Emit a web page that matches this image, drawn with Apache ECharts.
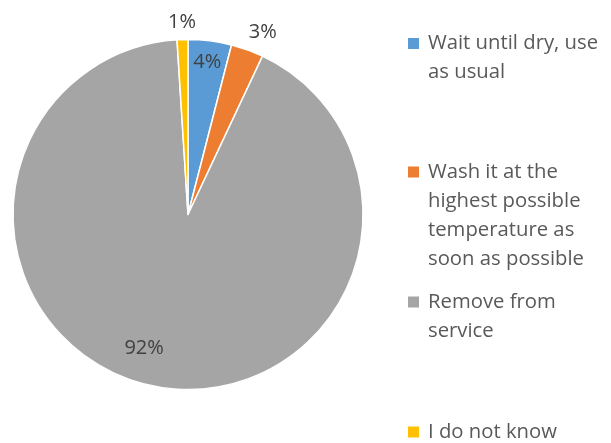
<!DOCTYPE html>
<html>
<head>
<meta charset="utf-8">
<script src="https://cdn.jsdelivr.net/npm/echarts@6/dist/echarts.min.js"></script>
<style>
  html, body { margin: 0; padding: 0; background: #ffffff; }
  #chart { width: 611px; height: 443px; }
</style>
</head>
<body>
<div id="chart"></div>
<script>
// Survey answers (percent of respondents)
const categories = [
  'Wait until dry, use as usual',
  'Wash it at the highest possible temperature as soon as possible',
  'Remove from service',
  'I do not know'
];
const shares = [4, 3, 92, 1];
// Legend text, wrapped the way it is printed
const legendLines = [
  ['Wait until dry, use', 'as usual'],
  ['Wash it at the', 'highest possible', 'temperature as', 'soon as possible'],
  ['Remove from', 'service'],
  ['I do not know']
];

const colors = ['#5B9BD5', '#ED7D31', '#A5A5A5', '#FFC000'];
const center = [188, 214.5];
const radius = 175;
// label distance (fraction of radius) and angular nudge (degrees, clockwise)
const labelPlacement = [[0.877, 0], [1.127, 2.5], [0.803, 7.4], [1.10, 0]];
// vertical centre of each legend entry's first line
const legendRows = [43.5, 172, 302, 432];
const legendLeft = 408;
const fontFamily = '"Open Sans", "Noto Sans", sans-serif';
const fontSize = 20.3;
const lineH = 29.2;

const total = shares.reduce((a, b) => a + b, 0);
function midAngle(i) {
  let cum = 0;
  for (let k = 0; k < i; k++) cum += shares[k];
  return (cum + shares[i] / 2) / total * 360; // clockwise from 12 o'clock
}

const chart = echarts.init(document.getElementById('chart'), null, { renderer: 'canvas' });

// Legend entries: a square swatch aligned with the first line of wrapped text
const legendGraphics = categories.map((name, i) => ({
  type: 'group',
  x: legendLeft,
  y: legendRows[i],
  silent: true,
  children: [
    {
      type: 'rect',
      shape: { x: 0, y: -5.5, width: 11, height: 11 },
      style: { fill: colors[i] }
    },
    {
      type: 'text',
      x: 20,
      y: -lineH / 2,
      style: {
        text: legendLines[i].join('\n'),
        font: fontSize + 'px ' + fontFamily,
        fill: '#595959',
        lineHeight: lineH,
        verticalAlign: 'top',
        align: 'left'
      }
    }
  ]
}));

chart.setOption({
  backgroundColor: '#ffffff',
  animation: false,
  color: colors,
  graphic: legendGraphics,
  series: [{
    type: 'pie',
    name: 'Responses',
    center: center,
    radius: radius,
    startAngle: 90,
    clockwise: true,
    avoidLabelOverlap: false,
    itemStyle: { borderColor: '#ffffff', borderWidth: 1.5 },
    label: {
      show: true,
      position: 'inside',
      formatter: '{c}%',
      fontFamily: fontFamily,
      fontSize: 20,
      color: '#404040'
    },
    labelLine: { show: false },
    emphasis: { disabled: true },
    labelLayout: function (p) {
      const i = p.dataIndex;
      const [k, nudge] = labelPlacement[i];
      const a = (midAngle(i) + nudge) * Math.PI / 180;
      return {
        x: center[0] + k * radius * Math.sin(a),
        y: center[1] - k * radius * Math.cos(a),
        align: 'center',
        verticalAlign: 'middle'
      };
    },
    data: categories.map((name, i) => ({ name: name, value: shares[i] }))
  }]
});
</script>
</body>
</html>
